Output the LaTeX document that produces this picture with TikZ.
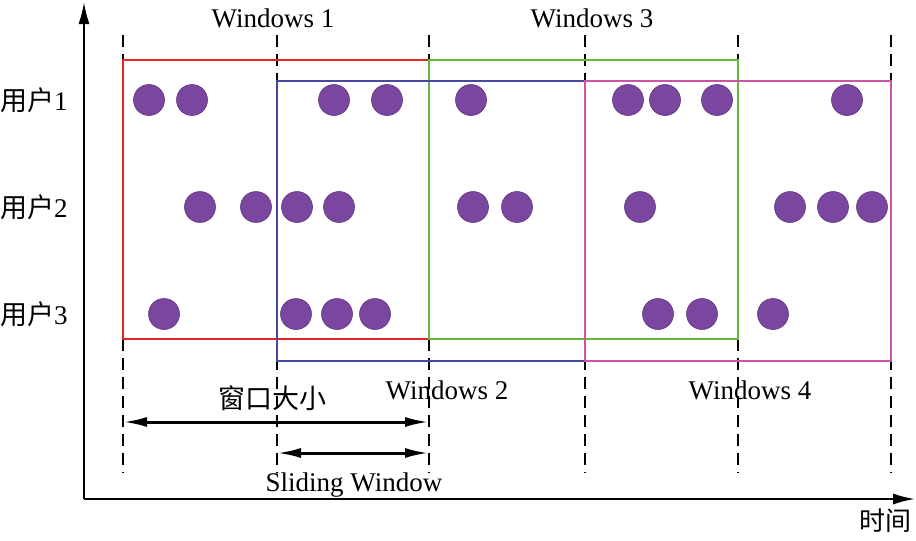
\documentclass[tikz,border=0pt]{standalone}
\usepackage{fontspec}
\setmainfont{Liberation Serif}
\newfontfamily\cjk{Noto Sans CJK SC}
\usetikzlibrary{arrows.meta}
\usetikzlibrary{positioning}
\definecolor{winred}{RGB}{222,38,38}
\definecolor{wingreen}{RGB}{104,184,64}
\definecolor{winblue}{RGB}{72,72,160}
\definecolor{winpink}{RGB}{204,84,164}
\definecolor{evpurple}{RGB}{122,70,160}
\tikzstyle{evstyle}=[circle, fill=evpurple, draw=evpurple!80!black, line width=0.6pt, minimum size=31pt, inner sep=0pt]
\tikzstyle{winstyle}=[draw, line width=2pt]
\tikzstyle{tickstyle}=[draw, line width=2pt, dash pattern=on 12pt off 7pt]
\tikzstyle{axisstyle}=[draw, line width=2pt, -{Latex[length=22pt, width=11pt]}]
\tikzstyle{spanstyle}=[draw, line width=3pt, {Latex[length=24pt, width=10pt]}-{Latex[length=24pt, width=10pt]}]
\tikzstyle{labelstyle}=[font=\fontsize{27}{31}\selectfont, inner sep=0pt]
\tikzstyle{cjkstyle}=[font=\cjk\fontsize{27}{31}\selectfont, inner sep=0pt]
\newcommand{\userlabel}[3]{\node [labelstyle] (#1) at (34,#2) {{\cjk 用户}#3};}

\begin{document}
\begin{tikzpicture}[x=1pt, y=-1pt]
\useasboundingbox (0,0) rectangle (916,541);
% axes
\coordinate (O) at (84,499);
\coordinate (Ytop) at (84,2);
\coordinate (Xend) at (915,499);
\draw [axisstyle] (O) -- (Ytop);
\draw [axisstyle] (O) -- (Xend);
\node [cjkstyle, font=\cjk\fontsize{26}{30}\selectfont] (time) at (885,521) {时间};
% tick lines
\foreach \x [count=\i from 0] in {123,277,429,585,738,891} {
  \coordinate (t\i) at (\x,35);
  \coordinate (b\i) at (\x,473);
  \draw [tickstyle] (t\i) -- (b\i);
}
% windows
\draw [winstyle, winred] (t0 |- 0,60) rectangle (t2 |- 0,339);
\draw [winstyle, wingreen] (t2 |- 0,60) rectangle (t4 |- 0,339);
\draw [winstyle, winblue] (t1 |- 0,81) rectangle (t3 |- 0,361);
\draw [winstyle, winpink] (t3 |- 0,81) rectangle (t5 |- 0,361);
\node [labelstyle] (w1) at (273,18) {Windows 1};
\node [labelstyle] (w3) at (592,18) {Windows 3};
\node [labelstyle] (w2) at (447,390) {Windows 2};
\node [labelstyle] (w4) at (750,390) {Windows 4};
% users
\userlabel{u1}{100}{1}
\userlabel{u2}{207}{2}
\userlabel{u3}{314}{3}
% events
\foreach \x [count=\i] in {149,192,334,387,471,628,665,717,847}
  \node [evstyle] (a\i) at (\x,100) {};
\foreach \x [count=\i] in {200,256,297,339,473,517,640,790,833,872}
  \node [evstyle] (b\i) at (\x,207) {};
\foreach \x [count=\i] in {164,296,337,375,658,702,773}
  \node [evstyle] (c\i) at (\x,314) {};
% window size and slide
\coordinate (s0) at (t0 |- 0,422);
\coordinate (s2) at (t2 |- 0,422);
\coordinate (d1) at (t1 |- 0,453);
\coordinate (d2) at (t2 |- 0,453);
\draw [spanstyle] (s0) -- (s2);
\draw [spanstyle] (d1) -- (d2);
\node [cjkstyle] (size) at (272,398) {窗口大小};
\node [labelstyle] (slide) at (354,485) {Sliding Window};
\end{tikzpicture}
\end{document}
